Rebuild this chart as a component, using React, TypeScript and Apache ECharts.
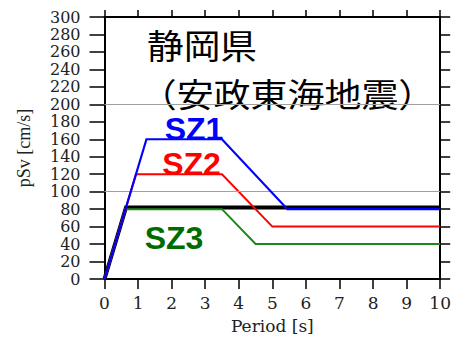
import React, { useEffect, useRef } from "react";
import * as echarts from "echarts";

// Pseudo-velocity response spectra, Shizuoka (Ansei-Tokai earthquake)
const periodTicks = [0, 1, 2, 3, 4, 5, 6, 7, 8, 9, 10];
const referenceLevels = [100, 200];

// [period (s), pSv (cm/s)]
const baseSpectrum: [number, number][] = [
  [0, 0],
  [0.64, 82],
  [10, 82],
];
const sz1: [number, number][] = [
  [0, 0],
  [1.25, 160],
  [3.5, 160],
  [5.45, 80],
  [10, 80],
];
const sz2: [number, number][] = [
  [0, 0],
  [0.94, 120],
  [3.5, 120],
  [5.0, 60],
  [10, 60],
];
const sz3: [number, number][] = [
  [0, 0],
  [0.62, 80],
  [3.5, 80],
  [4.5, 40],
  [10, 40],
];

const serif = "DejaVu Serif";

export default function App() {
  const ref = useRef<HTMLDivElement>(null);

  useEffect(() => {
    if (!ref.current) return;
    const chart = echarts.init(ref.current, null, { renderer: "svg" });

    const lineSeries = (
      name: string,
      data: [number, number][],
      color: string,
      width: number,
      z: number
    ) => ({
      name,
      type: "line",
      data,
      symbol: "none",
      z,
      lineStyle: { color, width, join: "miter" },
    });

    chart.setOption({
      animation: false,
      backgroundColor: "#ffffff",
      grid: { left: 104.5, right: 11, top: 17, bottom: 55 },
      xAxis: [
        {
          type: "value",
          min: periodTicks[0],
          max: periodTicks[periodTicks.length - 1],
          interval: 1,
          name: "Period [s]",
          nameLocation: "middle",
          nameGap: 38,
          nameTextStyle: { fontFamily: serif, fontSize: 17, color: "#222" },
          axisLine: { show: true, onZero: false, lineStyle: { color: "#000", width: 2 } },
          axisTick: { show: true, inside: false, length: 10, lineStyle: { color: "#000", width: 1.5 } },
          axisLabel: { fontFamily: serif, fontSize: 17, color: "#222", margin: 15 },
          splitLine: { show: false },
        },
        {
          type: "value",
          position: "top",
          min: 0,
          max: 10,
          interval: 1,
          axisLine: { show: true, onZero: false, lineStyle: { color: "#000", width: 2 } },
          axisTick: { show: true, inside: false, length: 7, lineStyle: { color: "#000", width: 1.5 } },
          axisLabel: { show: false },
          splitLine: { show: false },
        },
      ],
      yAxis: [
        {
          type: "value",
          min: 0,
          max: 300,
          interval: 20,
          name: "pSv [cm/s]",
          nameLocation: "middle",
          nameRotate: 90,
          nameGap: 72,
          nameTextStyle: { fontFamily: "Liberation Serif", fontSize: 18, color: "#222" },
          axisLine: { show: true, onZero: false, lineStyle: { color: "#000", width: 2 } },
          axisTick: { show: true, inside: false, length: 15, lineStyle: { color: "#000", width: 1.5 } },
          axisLabel: {
            fontFamily: serif,
            fontSize: 16,
            lineHeight: 16,
            color: "#222",
            margin: 24,
          },
          splitLine: { show: false },
        },
        {
          type: "value",
          position: "right",
          min: 0,
          max: 300,
          interval: 20,
          axisLine: { show: true, onZero: false, lineStyle: { color: "#000", width: 2 } },
          axisTick: { show: true, inside: false, length: 10, lineStyle: { color: "#000", width: 1.5 } },
          axisLabel: { show: false },
          splitLine: { show: false },
        },
      ],
      series: [
        {
          ...lineSeries("基準", baseSpectrum, "#000000", 4, 2),
          markLine: {
            silent: true,
            symbol: "none",
            label: { show: false },
            lineStyle: { color: "#a0a0a0", width: 1, type: "solid" },
            data: referenceLevels.map((v) => ({ yAxis: v })),
          },
        },
        lineSeries("SZ3", sz3, "#1a8a1a", 2, 3),
        lineSeries("SZ2", sz2, "#ff0000", 2, 4),
        lineSeries("SZ1", sz1, "#0000ff", 2.2, 5),
      ],
      graphic: [
        {
          type: "text",
          x: 202,
          y: 44,
          scaleX: 1.08,
          style: {
            text: "静岡県",
            font: '34px "Noto Sans CJK JP"',
            fill: "#000",
            textAlign: "center",
            textVerticalAlign: "middle",
          },
        },
        {
          type: "text",
          x: 287.5,
          y: 92.5,
          scaleX: 1.12,
          style: {
            text: "（安政東海地震）",
            font: '33px "Noto Sans CJK JP"',
            fill: "#000",
            textAlign: "center",
            textVerticalAlign: "middle",
          },
        },
        {
          type: "text",
          x: 194,
          y: 129,
          style: {
            text: "SZ1",
            font: 'bold 32px "Liberation Sans"',
            fill: "#0000ff",
            textAlign: "center",
            textVerticalAlign: "middle",
          },
        },
        {
          type: "text",
          x: 191.5,
          y: 163.5,
          style: {
            text: "SZ2",
            font: 'bold 32px "Liberation Sans"',
            fill: "#ff0000",
            textAlign: "center",
            textVerticalAlign: "middle",
          },
        },
        {
          type: "text",
          x: 174,
          y: 237.5,
          style: {
            text: "SZ3",
            font: 'bold 32px "Liberation Sans"',
            fill: "#006c00",
            textAlign: "center",
            textVerticalAlign: "middle",
          },
        },
      ],
    });

    return () => chart.dispose();
  }, []);

  return <div ref={ref} style={{ width: 454, height: 339, position: "absolute", left: 0, top: 0 }} />;
}
